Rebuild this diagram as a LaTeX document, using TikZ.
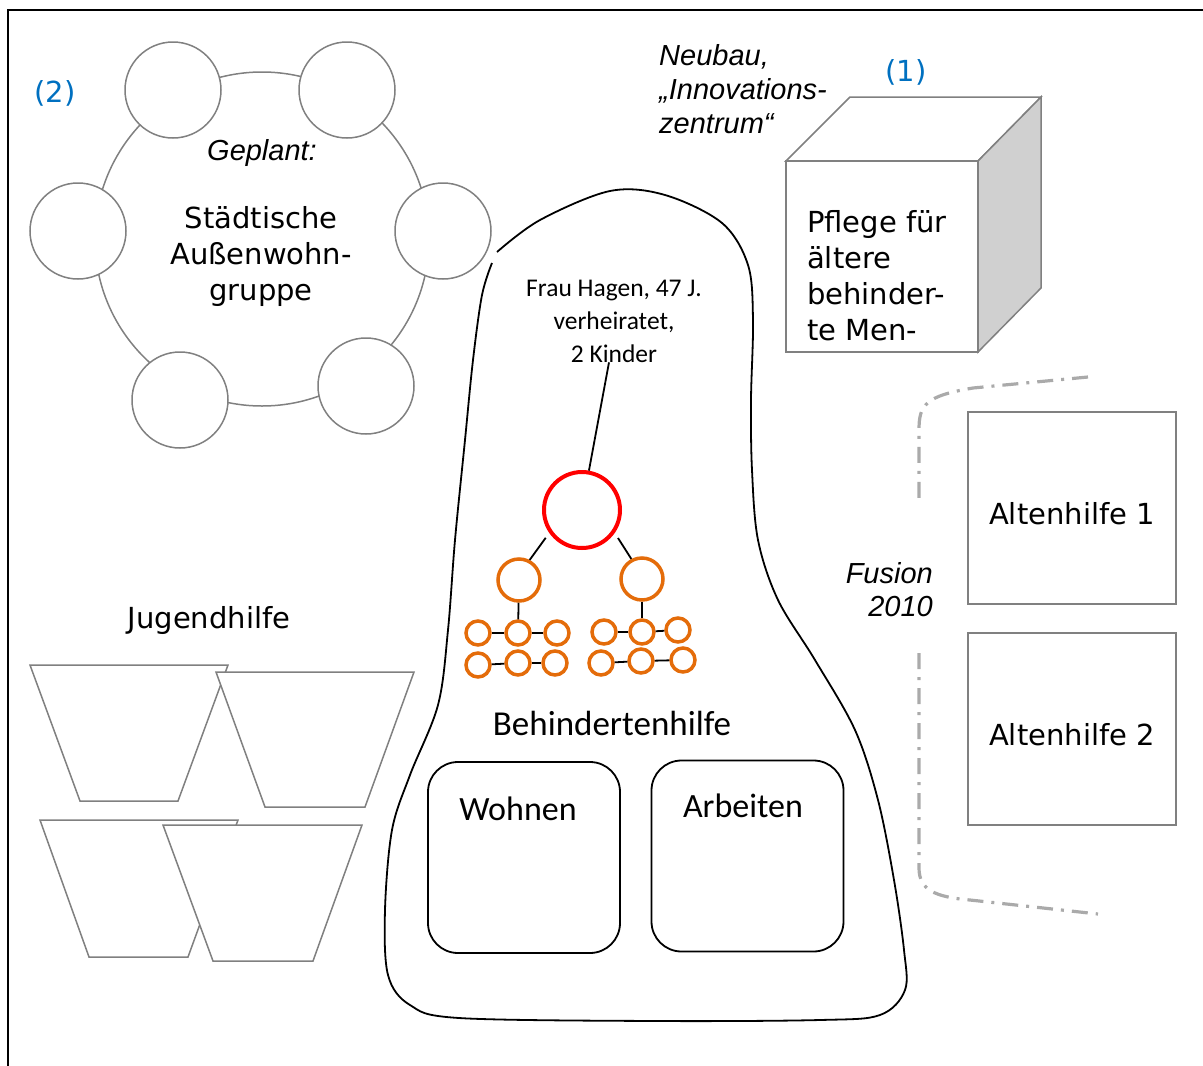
\documentclass[tikz,border=0pt]{standalone}
\usepackage{fontspec}
\setmainfont{DejaVu Sans}
\newfontfamily\calibri{Carlito}
\newfontfamily\arial{Liberation Sans}
\definecolor{ringgray}{RGB}{128,128,128}
\definecolor{labelblue}{RGB}{0,112,192}
\definecolor{famorange}{RGB}{228,108,10}
\definecolor{famred}{RGB}{255,0,0}
\definecolor{fusegray}{RGB}{170,170,170}
\definecolor{sidegray}{RGB}{208,208,208}

\tikzset{
  txt/.style={inner sep=0pt, font=\fontsize{29}{36}\selectfont},
  ital/.style={inner sep=0pt, font=\arial\itshape\fontsize{29}{34}\selectfont},
  cal/.style={inner sep=0pt, font=\calibri\fontsize{34}{40}\selectfont},
  member/.style={circle, draw=ringgray, line width=1.5pt, fill=white, minimum size=96pt, inner sep=0pt},
  cup/.style={draw=ringgray, line width=1.5pt, fill=white},
  cubeline/.style={draw=ringgray, line width=1.5pt},
  unit/.style={draw, line width=1.8pt, rounded corners=30pt, minimum width=192pt, minimum height=191pt},
  sector/.style={draw=ringgray, line width=1.5pt, minimum width=208pt, minimum height=192pt, text height=34pt, txt},
  parent/.style={circle, draw=famorange, line width=3.5pt, minimum size=42pt, inner sep=0pt},
  kid/.style={circle, draw=famorange, line width=3.5pt, minimum size=24pt, inner sep=0pt},
  tie/.style={line width=1.8pt},
}

\begin{document}
\begin{tikzpicture}[x=1pt,y=-1pt]
  \useasboundingbox (0,0) rectangle (1203,1066);
  \draw[line width=2.5pt] (8,1066) -- (8,10) -- (1203,10);

  \draw[ringgray, line width=1.5pt] (262,239) circle (167);
  \foreach \n/\x/\y in {m1/173/90, m2/347/90, m3/78/231, m4/443/231, m5/180/400, m6/366/386}
    \node[member] (\n) at (\x,\y) {};
  \node[txt, text=labelblue] (two) at (55,93) {(2)};
  \node[ital, anchor=base] (geplant) at (262,160) {Geplant:};
  \node[txt, anchor=base, align=center] (wg) at (261,300) {Städtische\\Außenwohn-\\gruppe};

  \node[ital, anchor=base west, align=left] (neubau) at (659,133) {Neubau,\\„Innovations-\\zentrum“};
  \node[txt, text=labelblue] (one) at (906,72) {(1)};
  \draw[cubeline, fill=white] (786,161) -- (850,97) -- (1041,97) -- (978,161) -- cycle;
  \draw[cubeline, fill=sidegray] (978,161) -- (1041,97) -- (1041,288) -- (978,352) -- cycle;
  \draw[cubeline, fill=white] (786,161) rectangle (978,352);
  \node[txt, anchor=base west, align=left] (pflege) at (807,340) {Pflege für\\ältere\\behinder-\\te Men-};

  \draw[line width=1.8pt] plot[smooth, tension=0.55] coordinates {
    (497,252) (540,220) (610,191) (665,195) (722,223) (748,265) (753,320) (751,400)
    (752,470) (758,540) (778,600) (815,660) (855,730) (878,800) (894,880) (904,950)
    (905,990) (880,1015) (820,1020) (656,1021) (459,1018) (410,1005) (388,975) (385,910)
    (392,830) (410,775) (438,705) (448,630) (455,540) (465,440) (473,360) (482,295) (492,263)};

  \node[cal, font=\calibri\fontsize{25.5}{33}\selectfont, anchor=base, align=center] (hagen) at (614,362) {Frau Hagen, 47 J.\\verheiratet,\\2 Kinder};
  \node[circle, draw=famred, line width=4pt, minimum size=76pt, inner sep=0pt] (mother) at (582,510) {};
  \node[parent] (midL) at (519,580) {};
  \node[parent] (midR) at (642,579) {};
  \foreach \n/\x/\y in {L11/478/633, L12/518/633, L13/557/633, L21/478/665, L22/518/663, L23/555/663,
                        R11/604/632, R12/642/632, R13/678/630, R21/601/663, R22/641/661, R23/683/660}
    \node[kid] (\n) at (\x,\y) {};
  \draw[tie] ([xshift=-5pt]hagen.south) -- (mother.80);
  \draw[tie, shorten <=6pt] (mother.215) -- (midL.62);
  \draw[tie, shorten <=6pt] (mother.325) -- (midR.118);
  \foreach \a/\b in {midL/L12, midR/R12, L11/L12, L12/L13, L21/L22, L22/L23, R11/R12, R12/R13, R21/R22, R22/R23}
    \draw[tie] (\a) -- (\b);

  \node[cal, font=\calibri\fontsize{35}{40}\selectfont, anchor=base] (bhilfe) at (612,735) {Behindertenhilfe};
  \node[unit] (wohnen) at (524,857.5) {};
  \node[unit] (arbeiten) at (747.5,856) {};
  \node[cal, anchor=base] (wohnentxt) at (518,820) {Wohnen};
  \node[cal, anchor=base] (arbeitentxt) at (743,817) {Arbeiten};

  \node[txt, anchor=base] (jugend) at (209,628) {Jugendhilfe};
  \foreach \tl/\tr/\bl/\br/\ty/\by in {30/228/80/178/665/801, 216/414/265/365/672/807,
                                         40/238/89/188/820/957, 163/362/213/313/825/961}
    \filldraw[cup] (\tl,\ty) -- (\tr,\ty) -- (\br,\by) -- (\bl,\by) -- cycle;

  \node[sector] (alt1) at (1072,508) {Altenhilfe 1};
  \node[sector] (alt2) at (1072,729) {Altenhilfe 2};
  \node[ital, font=\arial\itshape\fontsize{29}{33}\selectfont, anchor=base east, align=right] (fusion) at (933,616) {Fusion\\2010};
  \draw[fusegray, line width=3.2pt, dash pattern=on 16pt off 8pt on 3pt off 8pt]
    (1088,377) -- (973,388) .. controls (925,396) and (919,405) .. (919,430) -- (919,504);
  \draw[fusegray, line width=3.2pt, dash pattern=on 16pt off 8pt on 3pt off 8pt]
    (919,653) -- (919,868) .. controls (919,890) and (935,897) .. (970,900) -- (1098,914);
\end{tikzpicture}
\end{document}
